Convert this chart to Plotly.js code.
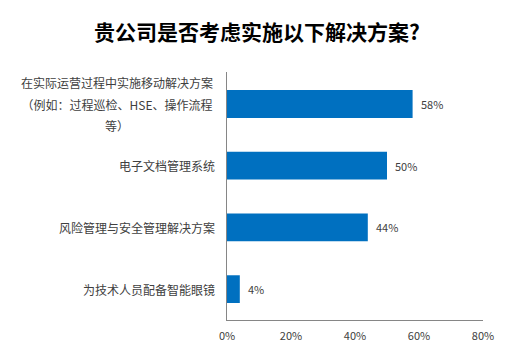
<!DOCTYPE html>
<html>
<head>
<meta charset="utf-8">
<script src="https://cdn.plot.ly/plotly-3.0.1.min.js"></script>
<style>
html,body{margin:0;padding:0;background:#fff;}
#chart{width:514px;height:359px;}
</style>
</head>
<body>
<div id="chart"></div>
<script>
const categories = [
  "在实际运营过程中实施移动解决方案\n（例如：过程巡检、HSE、操作流程\n等）",
  "电子文档管理系统",
  "风险管理与安全管理解决方案",
  "为技术人员配备智能眼镜"
];
const values = [58, 50, 44, 4];
const xTicks = [0, 20, 40, 60, 80];
const xTickLabels = ["0%", "20%", "40%", "60%", "80%"];
const titleText = "贵公司是否考虑实施以下解决方案?";

const FONT = '"Noto Sans CJK SC", "Noto Sans", sans-serif';
const TXT = '#404040';

const annotations = [];
categories.forEach((c, i) => {
  const lines = c.split("\n");
  const n = lines.length;
  const spacing = 21.5;
  lines.forEach((ln, k) => {
    const a = {
      x: 0, xref: 'paper', y: c, yref: 'y',
      text: ln, showarrow: false,
      xanchor: 'right', yanchor: 'middle',
      xshift: -10,
      yshift: ((n - 1) / 2 - k) * spacing,
      font: {family: FONT, size: 12, color: TXT}
    };
    if (n > 1) { a.width = 196; a.align = 'center'; }
    annotations.push(a);
  });
  annotations.push({
    x: values[i], xref: 'x', y: c, yref: 'y',
    text: values[i] + '%', showarrow: false,
    xanchor: 'left', yanchor: 'middle', xshift: 6,
    font: {family: FONT, size: 11, color: TXT}
  });
});

const data = [{
  type: 'bar', orientation: 'h',
  x: values, y: categories,
  marker: {color: '#0070C0'},
  hoverinfo: 'none'
}];

const layout = {
  width: 514, height: 359,
  margin: {l: 227, r: 31, t: 72, b: 39, pad: 0},
  paper_bgcolor: '#ffffff', plot_bgcolor: '#ffffff',
  title: {
    text: titleText,
    font: {family: FONT, size: 21, color: '#000000', weight: 'bold'},
    x: 0.5, xanchor: 'center', y: 1 - 33/359, yanchor: 'middle', yref: 'container'
  },
  bargap: 0.55,
  showlegend: false,
  xaxis: {
    range: [0, 80], tickmode: 'array', tickvals: xTicks, ticktext: xTickLabels,
    showgrid: false, zeroline: false,
    showline: true, linecolor: '#868686', linewidth: 1,
    ticks: '', ticklabelstandoff: 6,
    tickfont: {family: FONT, size: 11, color: TXT},
    fixedrange: true
  },
  yaxis: {
    autorange: 'reversed',
    showticklabels: false, showgrid: false, zeroline: false,
    showline: true, linecolor: '#868686', linewidth: 1, ticks: '',
    fixedrange: true
  },
  annotations: annotations
};

Plotly.newPlot('chart', data, layout, {displayModeBar: false, staticPlot: true});
</script>
</body>
</html>
